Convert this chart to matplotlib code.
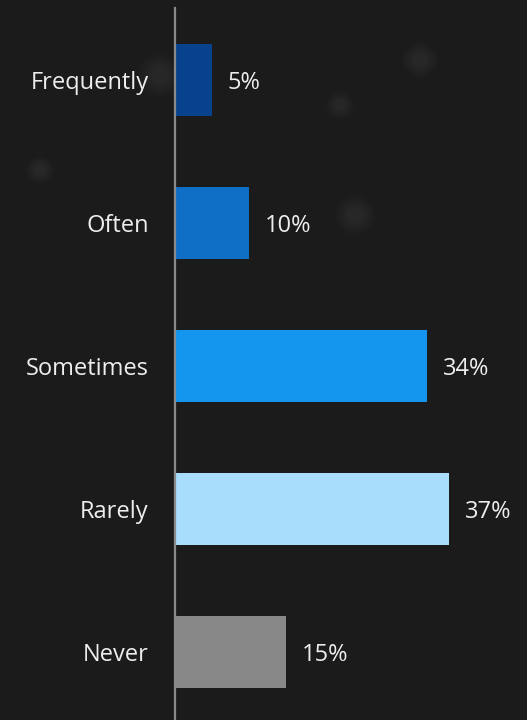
import matplotlib
matplotlib.use("Agg")
import matplotlib.pyplot as plt
from matplotlib.patches import Circle

categories = ["Frequently", "Often", "Sometimes", "Rarely", "Never"]
percentages = [5, 10, 34, 37, 15]
bar_colors = ["#08428c", "#0f6fc6", "#1496ee", "#a9ddfc", "#888888"]

plt.rcParams["font.family"] = ["Open Sans", "DejaVu Sans"]

fig = plt.figure(figsize=(5.27, 7.2), dpi=100)
fig.patch.set_facecolor("#1b1b1b")

# faint bokeh spots in the background
bg = fig.add_axes([0, 0, 1, 1], zorder=-1)
bg.set_xlim(0, 527)
bg.set_ylim(720, 0)
bg.axis("off")
for cx, cy, r in [(340, 105, 14), (355, 215, 20), (40, 170, 14), (420, 60, 18), (160, 75, 22)]:
    for k in range(6):
        bg.add_patch(Circle((cx, cy), r * (1 - k * 0.12), color="white", alpha=0.012, lw=0))

ax = fig.add_axes([175 / 527, 0, 352 / 527, 712 / 720])
ax.set_facecolor("none")

positions = list(range(len(categories)))
ax.barh(positions, percentages, height=0.503, color=bar_colors)

for pos, value in zip(positions, percentages):
    ax.annotate(
        f"{value}%",
        xy=(value, pos),
        xytext=(11.5, 0),
        textcoords="offset points",
        va="center_baseline",
        ha="left",
        color="#eeeeee",
        fontsize=17
    )

ax.set_xlim(0, 352 / 7.4)
ax.set_ylim(4.476, -0.503)

ax.set_yticks(positions)
ax.set_yticklabels(categories, color="#eeeeee", fontsize=17)
ax.tick_params(axis="y", length=0, pad=19)
ax.set_xticks([])

for side in ["top", "right", "bottom"]:
    ax.spines[side].set_visible(False)
ax.spines["left"].set_color("#8a8a8a")
ax.spines["left"].set_linewidth(1.6)

fig.savefig("out.png", dpi=100, facecolor=fig.get_facecolor())
plt.close(fig)
